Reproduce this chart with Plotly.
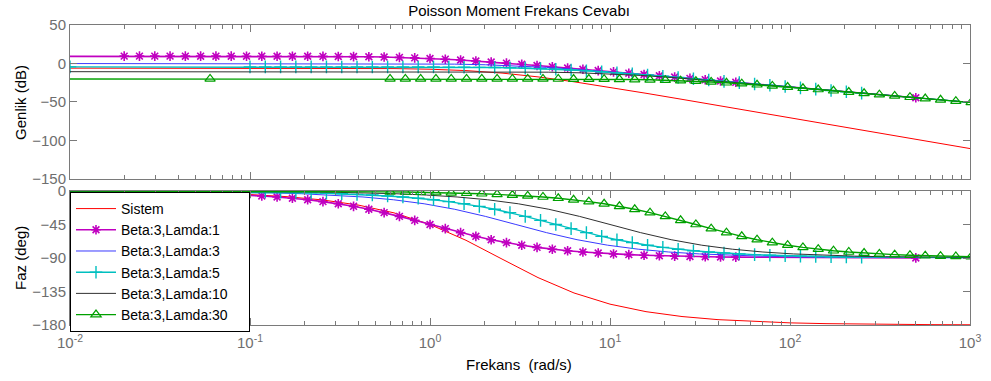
import plotly.graph_objects as go

# ---------------- data ----------------
# Sistem
w_sys = [0.01, 0.01585, 0.02512, 0.03981, 0.0631, 0.1, 0.1585, 0.2512, 0.3981, 0.631, 1.0, 1.585, 2.512, 3.981,
         6.31, 10.0, 15.85, 25.12, 39.81, 63.1, 100.0, 158.5, 251.2, 398.1, 631.0, 1000.0]
mag_sys = [-6.02, -6.02, -6.02, -6.02, -6.03, -6.04, -6.06, -6.12, -6.27, -6.62, -7.45, -9.21, -12.44, -17.39,
           -23.76, -31.00, -38.68, -46.55, -54.49, -62.47, -70.46, -78.46, -86.46, -94.46, -102.46, -110.46]
ph_sys = [-0.48, -0.76, -1.20, -1.90, -3.01, -4.77, -7.56, -11.95, -18.82, -29.39, -45.0, -66.25, -91.42, -116.32,
          -136.99, -151.99, -162.09, -168.64, -172.81, -175.46, -177.13, -178.19, -178.86, -179.28, -179.55, -179.71]

# Beta:3, Lamda:1
w_l1 = [0.002, 0.02, 0.02432, 0.02958, 0.03596, 0.04373, 0.05318, 0.06467, 0.07865, 0.09564, 0.1163, 0.1414, 0.172,
        0.2091, 0.2543, 0.3093, 0.3761, 0.4573, 0.5561, 0.6763, 0.8224, 1.0, 1.216, 1.479, 1.798, 2.187, 2.659,
        3.234, 3.932, 4.782, 5.815, 7.071, 8.599, 10.46, 12.72, 15.46, 18.8, 22.87, 27.81, 33.81, 41.12, 50.0, 500.0]
mag_l1 = [9.54, 9.54, 9.54, 9.54, 9.54, 9.53, 9.53, 9.52, 9.52, 9.50, 9.48, 9.46, 9.42, 9.36, 9.27, 9.15, 8.97,
          8.72, 8.37, 7.91, 7.30, 6.53, 5.60, 4.51, 3.27, 1.92, 0.47, -1.05, -2.63, -4.24, -5.88, -7.54, -9.21,
          -10.89, -12.58, -14.27, -15.96, -17.66, -19.35, -21.05, -22.75, -24.44, -44.44]
ph_l1 = [-0.11, -1.15, -1.39, -1.69, -2.06, -2.50, -3.04, -3.70, -4.50, -5.46, -6.63, -8.05, -9.76, -11.81, -14.27,
         -17.18, -20.61, -24.57, -29.08, -34.07, -39.43, -45.0, -50.57, -55.93, -60.92, -65.43, -69.39, -72.82,
         -75.74, -78.19, -80.25, -81.95, -83.37, -84.54, -85.51, -86.30, -86.96, -87.50, -87.94, -88.31, -88.61,
         -88.85, -89.89]

# Beta:3, Lamda:3
w_l3 = [0.006, 0.06, 0.08874, 0.1312, 0.194, 0.2869, 0.4243, 0.6274, 0.9278, 1.372, 2.029, 3.0, 4.436, 6.56,
        9.701, 14.35, 21.21, 31.37, 46.39, 68.6, 101.4, 150.0, 1500.0]
mag_l3 = [0.0, 0.0, 0.0, -0.01, -0.02, -0.04, -0.09, -0.19, -0.40, -0.82, -1.64, -3.01, -5.03, -7.62, -10.59,
          -13.78, -17.08, -20.43, -23.81, -27.20, -30.59, -33.98, -53.98]
ph_l3 = [-0.11, -1.15, -1.69, -2.50, -3.70, -5.46, -8.05, -11.81, -17.18, -24.57, -34.07, -45.0, -55.93, -65.43,
         -72.82, -78.19, -81.95, -84.54, -86.30, -87.50, -88.31, -88.85, -89.89]

# Beta:3, Lamda:5
w_l5 = [0.01, 0.1, 0.1216, 0.1479, 0.1798, 0.2187, 0.2659, 0.3234, 0.3932, 0.4782, 0.5815, 0.7071, 0.8599, 1.046,
        1.272, 1.546, 1.880, 2.287, 2.781, 3.381, 4.112, 5.0, 6.08, 7.394, 8.991, 10.93, 13.3, 16.17, 19.66, 23.91,
        29.07, 35.36, 42.99, 52.28, 63.58, 77.31, 94.01, 114.3, 139.0, 169.1, 205.6, 250.0, 2500.0]
mag_l5 = [-4.44, -4.44, -4.44, -4.44, -4.44, -4.45, -4.45, -4.46, -4.46, -4.48, -4.50, -4.52, -4.56, -4.62, -4.71,
          -4.83, -5.01, -5.26, -5.61, -6.07, -6.68, -7.45, -8.38, -9.47, -10.71, -12.06, -13.51, -15.03, -16.61,
          -18.22, -19.86, -21.52, -23.19, -24.87, -26.56, -28.25, -29.94, -31.64, -33.33, -35.03, -36.73, -38.42,
          -58.42]
ph_l5 = [-0.11, -1.15, -1.39, -1.69, -2.06, -2.50, -3.04, -3.70, -4.50, -5.46, -6.63, -8.05, -9.76, -11.81, -14.27,
         -17.18, -20.61, -24.57, -29.08, -34.07, -39.43, -45.0, -50.57, -55.93, -60.92, -65.43, -69.39, -72.82,
         -75.74, -78.19, -80.25, -81.95, -83.37, -84.54, -85.51, -86.30, -86.96, -87.50, -87.94, -88.31, -88.61,
         -88.85, -89.89]

# Beta:3, Lamda:10
w_l10 = [0.002, 0.02, 0.2, 0.2958, 0.4373, 0.6467, 0.9564, 1.414, 2.091, 3.093, 4.573, 6.763, 10.0, 14.79, 21.87,
         32.34, 47.82, 70.71, 104.6, 154.6, 228.7, 338.1, 500.0, 5000.0]
mag_l10 = [-10.46, -10.46, -10.46, -10.46, -10.47, -10.48, -10.50, -10.54, -10.64, -10.86, -11.28, -12.09, -13.47,
           -15.49, -18.08, -21.05, -24.24, -27.54, -30.89, -34.27, -37.66, -41.05, -44.44, -64.44]
ph_l10 = [-0.01, -0.11, -1.15, -1.69, -2.50, -3.70, -5.46, -8.05, -11.81, -17.18, -24.57, -34.07, -45.0, -55.93,
          -65.43, -72.82, -78.19, -81.95, -84.54, -86.30, -87.50, -88.31, -88.85, -89.99]

# Beta:3, Lamda:30
w_l30 = [0.006, 0.06, 0.6, 0.7296, 0.8873, 1.079, 1.312, 1.596, 1.94, 2.359, 2.869, 3.489, 4.243, 5.159, 6.274,
         7.629, 9.278, 11.28, 13.72, 16.68, 20.29, 24.67, 30.0, 36.48, 44.36, 53.95, 65.6, 79.77, 97.01, 118.0,
         143.5, 174.4, 212.1, 258.0, 313.7, 381.5, 463.9, 564.1, 686.0, 834.2, 1014.0, 1234.0, 1500.0]
mag_l30 = [-20.0, -20.0, -20.0, -20.0, -20.0, -20.01, -20.01, -20.01, -20.02, -20.03, -20.04, -20.06, -20.09,
           -20.13, -20.19, -20.27, -20.40, -20.57, -20.82, -21.17, -21.64, -22.24, -23.01, -23.94, -25.03, -26.27,
           -27.62, -29.07, -30.59, -32.17, -33.78, -35.42, -37.08, -38.75, -40.43, -42.12, -43.81, -45.50, -47.20,
           -48.89, -50.59, -52.29, -53.98]
ph_l30 = [-0.01, -0.11, -1.15, -1.39, -1.69, -2.06, -2.50, -3.04, -3.70, -4.50, -5.46, -6.63, -8.05, -9.76, -11.81,
          -14.27, -17.18, -20.61, -24.57, -29.08, -34.07, -39.43, -45.0, -50.57, -55.93, -60.92, -65.43, -69.39,
          -72.82, -75.74, -78.19, -80.25, -81.95, -83.37, -84.54, -85.51, -86.30, -86.96, -87.50, -87.94, -88.31,
          -88.61, -88.85]

series_names = ["Sistem", "Beta:3,Lamda:1", "Beta:3,Lamda:3", "Beta:3,Lamda:5", "Beta:3,Lamda:10",
                "Beta:3,Lamda:30"]

x_tickvals = [0.01, 0.1, 1, 10, 100, 1000]
x_ticktext = ["10<sup>-2</sup>", "10<sup>-1</sup>", "10<sup>0</sup>", "10<sup>1</sup>", "10<sup>2</sup>",
              "10<sup>3</sup>"]
mag_ticks = [-150, -100, -50, 0, 50]
ph_ticks = [-180, -135, -90, -45, 0]

# ---------------- styles ----------------
FONT = "Liberation Sans, Arial, sans-serif"
AXC = "#7a7a7a"
TICKC = "#6e6e6e"
PAD = "\u00a0\u00a0\u00a0\u00a0"

styles = [
    dict(mode="lines", line=dict(color="#ff0000", width=1)),
    dict(mode="lines+markers", line=dict(color="#c000c0", width=1.6),
         marker=dict(symbol="asterisk-open", size=8, line=dict(color="#c000c0", width=1.6))),
    dict(mode="lines", line=dict(color="#3a3aff", width=1)),
    dict(mode="lines+markers", line=dict(color="#00bfbf", width=1.4),
         marker=dict(symbol="cross-thin-open", size=9, line=dict(color="#00bfbf", width=1.4))),
    dict(mode="lines", line=dict(color="#303030", width=1)),
    dict(mode="lines+markers", line=dict(color="#00a000", width=1.4),
         marker=dict(symbol="triangle-up-open", size=9, line=dict(color="#00a000", width=1.2))),
]

data_sets = [(w_sys, mag_sys, ph_sys), (w_l1, mag_l1, ph_l1), (w_l3, mag_l3, ph_l3),
             (w_l5, mag_l5, ph_l5), (w_l10, mag_l10, ph_l10), (w_l30, mag_l30, ph_l30)]

fig = go.Figure()
for name, (w, m, p), st in zip(series_names, data_sets, styles):
    fig.add_trace(go.Scatter(x=w, y=m, name=name + PAD, legendgroup=name, showlegend=False,
                             xaxis="x", yaxis="y", **st))
    fig.add_trace(go.Scatter(x=w, y=p, name=name + PAD, legendgroup=name, showlegend=True,
                             xaxis="x2", yaxis="y2", **st))

minor_vals = []
for dec in [0.01, 0.1, 1, 10, 100]:
    for k in range(2, 10):
        minor_vals.append(dec * k)

common_x = dict(type="log", range=[-2, 3], showgrid=False, zeroline=False, showline=True, automargin=False,
                linecolor=AXC, linewidth=1, mirror="ticks", ticks="inside", ticklen=7, tickwidth=1,
                tickcolor=AXC, tickmode="array", tickvals=x_tickvals,
                minor=dict(ticks="inside", ticklen=4, tickwidth=1, tickcolor=AXC, tickmode="array",
                           tickvals=minor_vals, showgrid=False))
common_y = dict(showgrid=False, zeroline=False, showline=True, linecolor=AXC, linewidth=1, mirror="ticks",
                automargin=False, ticks="inside", ticklen=7, tickwidth=1, tickcolor=AXC, tickmode="array",
                tickfont=dict(size=15, color=TICKC, family=FONT))

fig.update_layout(
    template="none",
    width=991, height=381,
    margin=dict(l=70, r=21, t=25, b=56, autoexpand=False),
    paper_bgcolor="white", plot_bgcolor="white",
    font=dict(family=FONT, size=15, color="black"),
    title=dict(text="Poisson Moment Frekans Cevabı", x=0.4989, xref="paper", xanchor="center",
               y=1 - 11 / 381, yref="container", yanchor="middle", automargin=False,
               font=dict(size=15, color="black", family=FONT)),
    xaxis=dict(domain=[0, 1], anchor="y", showticklabels=False, **common_x),
    xaxis2=dict(domain=[0, 1], anchor="y2", showticklabels=True, ticktext=x_ticktext, ticklabelstandoff=4,
                tickfont=dict(size=15, color=TICKC, family=FONT), matches="x", **common_x),
    yaxis=dict(domain=[0.4867, 1], anchor="x", range=[-150, 50], tickvals=mag_ticks, **common_y),
    yaxis2=dict(domain=[0, 0.4467], anchor="x2", range=[-180, 0], tickvals=ph_ticks, **common_y),
    legend=dict(x=0, xanchor="left", y=-0.0233, yanchor="bottom", bgcolor="white", bordercolor="black",
                borderwidth=1, font=dict(size=14, color="black", family=FONT), tracegroupgap=0,
                itemwidth=40),
    showlegend=True,
    annotations=[
        dict(text="Genlik (dB)", xref="paper", yref="paper", x=-0.0556, y=0.7433, xanchor="center",
             yanchor="middle", textangle=-90, showarrow=False, font=dict(size=15, color="black", family=FONT)),
        dict(text="Faz (deg)", xref="paper", yref="paper", x=-0.0556, y=0.2233, xanchor="center",
             yanchor="middle", textangle=-90, showarrow=False, font=dict(size=15, color="black", family=FONT)),
        dict(text="Frekans\u00a0 (rad/s)", xref="paper", yref="paper", x=0.4989, y=-0.1333, xanchor="center",
             yanchor="middle", showarrow=False, font=dict(size=15, color="black", family=FONT)),
    ],
)

fig.write_html("out.html", config={"displayModeBar": False},
               post_script="document.body.style.margin='0';document.body.style.overflow='hidden';")
